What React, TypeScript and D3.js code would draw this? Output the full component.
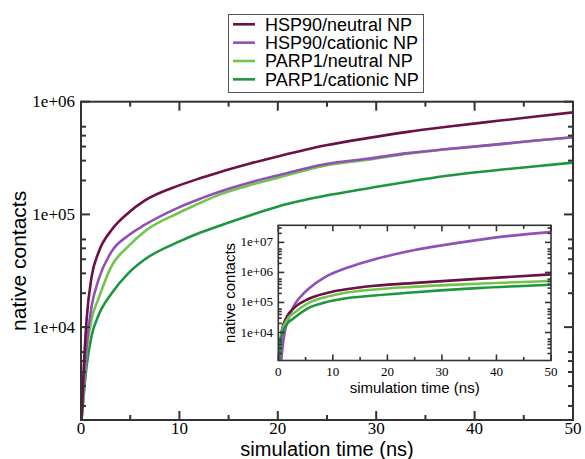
import React from "react";
import * as d3 from "d3";

// ---------- data ----------
const seriesNames = ["HSP90/neutral NP", "HSP90/cationic NP", "PARP1/neutral NP", "PARP1/cationic NP"];
const seriesColors = ["#6b1146", "#9050b6", "#72c44b", "#1e963f"];

const mainTime = [0.05, 0.24, 0.57, 1.08, 1.76, 3.12, 4.8, 6.5, 9.9, 12.15, 14, 17, 20.2, 24.9, 29.1, 33.2, 37.2, 42.6, 46, 50];
const mainHspNeutral = [1500, 3700, 11700, 28000, 45500, 73000, 103000, 133000, 180000, 210000, 236000, 280000, 330000, 410000, 475000, 540000, 600000, 680000, 735000, 805000];
const mainHspCationic = [1500, 2600, 6800, 15300, 26000, 47000, 65000, 81000, 115000, 138000, 158000, 190000, 224000, 280000, 312000, 350000, 380000, 420000, 450000, 484000];
const mainParpNeutral = [1500, 2300, 6000, 11800, 17700, 35000, 52000, 71000, 103000, 127000, 149000, 180000, 214000, 272000, 305000, 346000, 378000, 420000, 450000, 484000];
const mainParpCationic = [1500, 2300, 4500, 8400, 12600, 20000, 30000, 40000, 57000, 69000, 79000, 97000, 119000, 147000, 170000, 195000, 220000, 249000, 266000, 288000];

const insetTime = [0.15, 0.61, 1.5, 3.06, 5.5, 8.56, 11.6, 17.7, 24.5, 36.4, 50];
const insetHspNeutral = [1200, 11000, 32000, 70000, 130000, 200000, 260000, 360000, 440000, 610000, 860000];
const insetParpNeutral = [1200, 10000, 25000, 47500, 95000, 150000, 200000, 270000, 330000, 420000, 520000];
const insetParpCationic = [1200, 8000, 18000, 32000, 65000, 100000, 130000, 170000, 215000, 300000, 390000];
const insetHspCatTime = [0.55, 0.9, 1.3, 1.83, 3.06, 4.28, 5.5, 8.56, 11.6, 14.7, 17.7, 20.8, 25, 30.25, 36.4, 42.5, 50];
const insetHspCationic = [1200, 5000, 13000, 28000, 89000, 170000, 280000, 700000, 1230000, 1900000, 2750000, 3800000, 5560000, 8100000, 11900000, 16400000, 21900000];

const xTickLabels = [0, 10, 20, 30, 40, 50];
const mainYMajor = [1e4, 1e5, 1e6];
const insetYMajor = [1e4, 1e5, 1e6, 1e7];
const yLabelText = (v: number) => "1e+" + String(Math.round(Math.log10(v))).padStart(2, "0");

// ---------- layout ----------
const W = 585, H = 459;
const M = { left: 81, right: 573, top: 101.7, bottom: 420 };
const I = { left: 278.3, right: 551, top: 225.3, bottom: 360.5 };
const serif = "'Liberation Serif', 'Times New Roman', serif";
const sans = "'Liberation Sans', Arial, sans-serif";
const axisColor = "#333";

function minorTicks(lo: number, hi: number) {
  const out: number[] = [];
  for (let e = -1; e < 9; e++) {
    for (const m of [2, 3, 4, 5, 6]) {
      const v = m * Math.pow(10, e);
      if (v > lo && v < hi) out.push(v);
    }
  }
  return out;
}

type Box = { left: number; right: number; top: number; bottom: number };

function Frame({ box, x, y, yMajor, yDomain, majLen, minLen, sw }: any) {
  const b: Box = box;
  const xs = d3.range(0, 51, 5);
  const els: any[] = [];
  xs.forEach((t, i) => {
    const px = x(t);
    const len = t % 10 === 0 ? majLen : minLen;
    els.push(<line key={"xb" + i} x1={px} x2={px} y1={b.bottom} y2={b.bottom - len} />);
    els.push(<line key={"xt" + i} x1={px} x2={px} y1={b.top} y2={b.top + len} />);
  });
  yMajor.forEach((v: number, i: number) => {
    const py = y(v);
    els.push(<line key={"yl" + i} x1={b.left} x2={b.left + majLen} y1={py} y2={py} />);
    els.push(<line key={"yr" + i} x1={b.right} x2={b.right - majLen} y1={py} y2={py} />);
  });
  minorTicks(yDomain[0], yDomain[1]).forEach((v, i) => {
    const py = y(v);
    els.push(<line key={"ml" + i} x1={b.left} x2={b.left + minLen} y1={py} y2={py} />);
    els.push(<line key={"mr" + i} x1={b.right} x2={b.right - minLen} y1={py} y2={py} />);
  });
  return (
    <g stroke={axisColor} strokeWidth={sw} fill="none">
      {els}
      <rect x={b.left} y={b.top} width={b.right - b.left} height={b.bottom - b.top} />
    </g>
  );
}

export default function App() {
  const mainYDomain = [1500, 1e6];
  const x = d3.scaleLinear().domain([0, 50]).range([M.left, M.right]);
  const y = d3.scaleLog().domain(mainYDomain).range([M.bottom, M.top]);

  const insetYDomain = [1170, 3.7e7];
  const xi = d3.scaleLinear().domain([0, 50]).range([I.left, I.right]);
  const yi = d3.scaleLog().domain(insetYDomain).range([I.bottom, I.top]);

  const mainSeries = [mainHspNeutral, mainHspCationic, mainParpNeutral, mainParpCationic];
  const mkLine = (xs: any, ys: any) =>
    d3.line<[number, number]>().x(d => xs(d[0])).y(d => ys(d[1])).curve(d3.curveMonotoneX);
  const mainLine = mkLine(x, y);
  const insetLine = mkLine(xi, yi);

  const insetSeries: [number[], number[]][] = [
    [insetTime, insetHspNeutral],
    [insetHspCatTime, insetHspCationic],
    [insetTime, insetParpNeutral],
    [insetTime, insetParpCationic],
  ];
  const mainOrder = [3, 2, 1, 0];
  const insetOrder = [1, 0, 2, 3];

  return (
    <svg width={W} height={H} style={{ position: "absolute", left: 0, top: 0, background: "#fff" }}>
      <defs>
        <clipPath id="mainClip">
          <rect x={M.left} y={M.top} width={M.right - M.left} height={M.bottom - M.top} />
        </clipPath>
        <clipPath id="insetClip">
          <rect x={I.left} y={I.top} width={I.right - I.left} height={I.bottom - I.top} />
        </clipPath>
      </defs>
      <rect x={0} y={0} width={W} height={H} fill="#fff" />

      {/* main curves */}
      <g clipPath="url(#mainClip)" fill="none" strokeWidth={2.6}>
        {mainOrder.map(si => (
          <path key={si} d={mainLine(mainTime.map((t, i) => [t, mainSeries[si][i]]) as any) || ""} stroke={seriesColors[si]} />
        ))}
      </g>

      <Frame box={M} x={x} y={y} yMajor={mainYMajor} yDomain={mainYDomain} majLen={9} minLen={5} sw={2} />

      {/* main tick labels */}
      <g fontFamily={serif} fontSize={17} fill="#000">
        {xTickLabels.map(t => (
          <text key={t} x={x(t)} y={433.5} textAnchor="middle">{t}</text>
        ))}
        {mainYMajor.map(v => (
          <text key={v} x={75} y={y(v) + 5.5} textAnchor="end">{yLabelText(v)}</text>
        ))}
      </g>
      <text x={(M.left + M.right) / 2} y={455.5} textAnchor="middle" fontFamily={sans} fontSize={20}>simulation time (ns)</text>
      <text transform={`translate(26,${(M.top + M.bottom) / 2}) rotate(-90)`} textAnchor="middle" fontFamily={sans} fontSize={21}>native contacts</text>

      {/* inset */}
      <rect x={I.left} y={I.top} width={I.right - I.left} height={I.bottom - I.top} fill="#fff" />
      <g clipPath="url(#insetClip)" fill="none" strokeWidth={2.6}>
        {insetOrder.map(si => (
          <path key={si} d={insetLine(insetSeries[si][0].map((t, i) => [t, insetSeries[si][1][i]]) as any) || ""} stroke={seriesColors[si]} />
        ))}
      </g>
      <Frame box={I} x={xi} y={yi} yMajor={insetYMajor} yDomain={insetYDomain} majLen={6} minLen={3.5} sw={1.6} />
      <g fontFamily={serif} fontSize={13} fill="#000">
        {xTickLabels.map(t => (
          <text key={t} x={xi(t)} y={375.5} textAnchor="middle">{t}</text>
        ))}
        {insetYMajor.map(v => (
          <text key={v} x={273} y={yi(v) + 4} textAnchor="end">{yLabelText(v)}</text>
        ))}
      </g>
      <text x={(I.left + I.right) / 2} y={393} textAnchor="middle" fontFamily={sans} fontSize={15}>simulation time (ns)</text>
      <text transform={`translate(235,${(I.top + I.bottom) / 2}) rotate(-90)`} textAnchor="middle" fontFamily={sans} fontSize={15}>native contacts</text>

      {/* legend */}
      <rect x={228.5} y={14.5} width={195} height={78} fill="#fff" stroke="#555" strokeWidth={1} />
      {seriesNames.map((n, i) => {
        const cy = 24.3 + i * 18.35;
        return (
          <g key={n}>
            <line x1={233} x2={255} y1={cy} y2={cy} stroke={seriesColors[i]} strokeWidth={2.6} />
            <text x={265} y={cy + 6.3} fontFamily={sans} fontSize={18} fill="#000">{n}</text>
          </g>
        );
      })}
    </svg>
  );
}
